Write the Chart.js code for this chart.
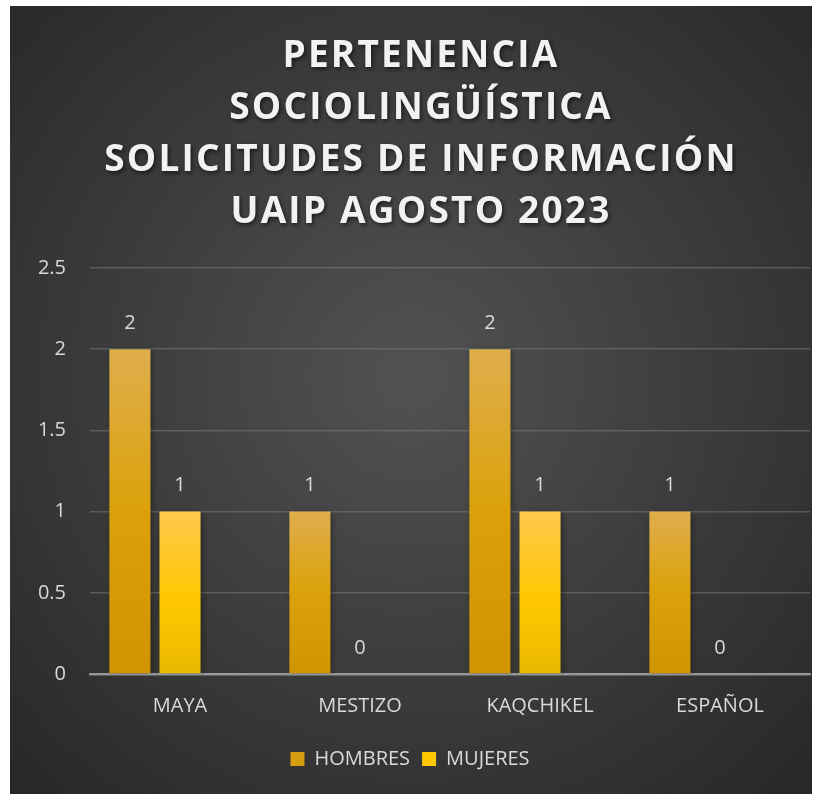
<!DOCTYPE html>
<html>
<head>
<meta charset="utf-8">
<script src="https://cdn.jsdelivr.net/npm/chart.js@4/dist/chart.umd.min.js"></script>
<style>
  html, body { margin: 0; padding: 0; background: #fff; }
  #wrap { position: absolute; left: 10px; top: 6px; width: 802px; height: 788px; }
</style>
</head>
<body>
<div id="wrap"><canvas id="chart"></canvas></div>
<script>
    const titleLines = ['PERTENENCIA', 'SOCIOLINGÜÍSTICA', 'SOLICITUDES DE INFORMACIÓN', 'UAIP AGOSTO 2023'];
    const categories = ['MAYA', 'MESTIZO', 'KAQCHIKEL', 'ESPAÑOL'];
    const hombres = [2, 1, 2, 1];
    const mujeres = [1, 0, 1, 0];
    // the source workbook has an empty third series, which leaves its slot blank
    const vacio = [null, null, null, null];
    const yMax = 2.5;
    const yStep = 0.5;

    const FONT = '"Open Sans", "Noto Sans", sans-serif';
    const TEXT = '#d9d9d9';

    function barGradient(stops) {
        return function (context) {
            const chart = context.chart;
            if (!chart.chartArea || context.raw == null) return stops[stops.length - 1][1];
            const y = chart.scales.y;
            const top = y.getPixelForValue(context.raw);
            const bottom = y.getPixelForValue(0);
            if (bottom - top < 1) return stops[stops.length - 1][1];
            const g = chart.ctx.createLinearGradient(0, top, 0, bottom);
            stops.forEach(s => g.addColorStop(s[0], s[1]));
            return g;
        };
    }

    const backgroundPlugin = {
        id: 'background',
        beforeDraw(chart) {
            const { ctx, width, height } = chart;
            ctx.save();
            const g = ctx.createRadialGradient(width * 0.5, height * 0.47, 0, width * 0.5, height * 0.47, width * 0.72);
            g.addColorStop(0, '#525252');
            g.addColorStop(1, '#272727');
            ctx.fillStyle = g;
            ctx.fillRect(0, 0, width, height);

            ctx.font = 'bold 37px ' + FONT;
            ctx.letterSpacing = '2.2px';
            ctx.textAlign = 'center';
            ctx.textBaseline = 'middle';
            ctx.fillStyle = '#f2f2f2';
            ctx.shadowColor = 'rgba(0,0,0,0.6)';
            ctx.shadowBlur = 4;
            ctx.shadowOffsetX = 1.5;
            ctx.shadowOffsetY = 2;
            titleLines.forEach((line, i) => {
                ctx.fillText(line, 411, 50 + i * 52);
            });
            ctx.restore();
        }
    };

    const shadowPlugin = {
        id: 'barShadow',
        beforeDatasetsDraw(chart) {
            const ctx = chart.ctx;
            ctx.save();
            ctx.shadowColor = 'rgba(0,0,0,0.35)';
            ctx.shadowBlur = 6;
            ctx.shadowOffsetX = 2;
            ctx.shadowOffsetY = 1;
        },
        afterDatasetsDraw(chart) {
            chart.ctx.restore();
        }
    };

    const valueLabelPlugin = {
        id: 'valueLabels',
        afterDraw(chart) {
            const ctx = chart.ctx;
            ctx.save();
            ctx.font = '20px ' + FONT;
            ctx.fillStyle = TEXT;
            ctx.textAlign = 'center';
            ctx.textBaseline = 'middle';
            chart.data.datasets.forEach((ds, i) => {
                if (ds.noLabel) return;
                chart.getDatasetMeta(i).data.forEach((bar, j) => {
                    if (ds.data[j] == null) return;
                    ctx.fillText(String(ds.data[j]), bar.x, bar.y - 26);
                });
            });
            ctx.restore();
        }
    };

    new Chart(document.getElementById('chart'), {
        type: 'bar',
        data: {
            labels: categories,
            datasets: [
                {
                    label: 'HOMBRES',
                    data: hombres,
                    backgroundColor: barGradient([[0, '#dfae4c'], [0.5, '#dba10a'], [1, '#cf9400']]),
                    categoryPercentage: 0.835,
                    barPercentage: 0.82
                },
                {
                    label: 'MUJERES',
                    data: mujeres,
                    backgroundColor: barGradient([[0, '#ffc84c'], [0.55, '#ffc800'], [1, '#e9b800']]),
                    categoryPercentage: 0.835,
                    barPercentage: 0.82
                },
                {
                    label: '',
                    data: vacio,
                    noLabel: true,
                    backgroundColor: 'transparent',
                    categoryPercentage: 0.835,
                    barPercentage: 0.82
                }
            ]
        },
        options: {
            responsive: true,
            maintainAspectRatio: false,
            animation: false,
            layout: {
                padding: { top: 262, right: 2, left: 0, bottom: 15 }
            },
            scales: {
                x: {
                    z: 1,
                    grid: { display: false, drawTicks: false },
                    border: { display: true, color: 'rgba(200,200,200,0.6)', width: 2.5 },
                    ticks: {
                        color: TEXT,
                        font: { family: FONT, size: 20 },
                        padding: 20
                    },
                    afterFit(scale) { scale.height = 63; }
                },
                y: {
                    min: 0,
                    max: yMax,
                    grid: { color: 'rgba(120,120,120,0.55)', lineWidth: 1.5, drawTicks: false },
                    border: { display: false },
                    ticks: {
                        stepSize: yStep,
                        color: TEXT,
                        font: { family: FONT, size: 20 },
                        padding: 24,
                        callback: v => String(v)
                    },
                    afterFit(scale) { scale.width = 80; }
                }
            },
            plugins: {
                legend: {
                    position: 'bottom',
                    labels: {
                        color: TEXT,
                        font: { family: FONT, size: 20 },
                        boxWidth: 14,
                        boxHeight: 14,
                        padding: 12,
                        filter: item => item.text !== '',
                        generateLabels(chart) {
                            const fills = ['#d69d12', '#ffc800', 'transparent'];
                            return chart.data.datasets.map((ds, i) => ({
                                text: ds.label,
                                fillStyle: fills[i],
                                strokeStyle: fills[i],
                                lineWidth: 0,
                                fontColor: TEXT,
                                datasetIndex: i
                            }));
                        }
                    }
                },
                title: { display: false },
                tooltip: { enabled: false }
            }
        },
        plugins: [backgroundPlugin, shadowPlugin, valueLabelPlugin]
    });
</script>
</body>
</html>
